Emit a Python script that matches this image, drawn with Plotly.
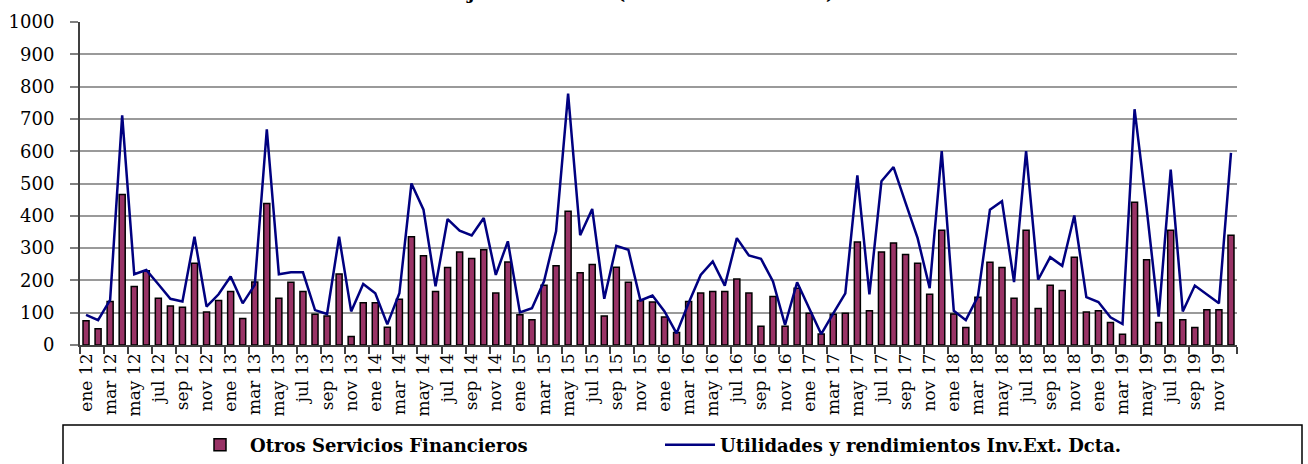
import plotly.graph_objects as go

# Monthly categories (Spanish month abbreviations, two-digit years)
month_abbr = ["ene", "feb", "mar", "abr", "may", "jun",
              "jul", "ago", "sep", "oct", "nov", "dic"]
years = ["12", "13", "14", "15", "16", "17", "18", "19"]
months = [f"{m} {y}" for y in years for m in month_abbr]

# Otros Servicios Financieros (millones de dólares)
otros = [
    75, 50, 135, 466, 181, 230, 145, 121, 117, 253, 102, 138,
    166, 82, 195, 438, 145, 194, 166, 95, 90, 220, 26, 131,
    131, 55, 142, 335, 276, 166, 240, 288, 268, 295, 161, 257,
    94, 78, 185, 245, 414, 224, 249, 90, 241, 194, 138, 133,
    87, 39, 135, 161, 166, 166, 204, 161, 58, 150, 58, 176,
    98, 34, 95, 98, 319, 106, 288, 316, 280, 253, 157, 355,
    96, 54, 148, 256, 240, 145, 355, 113, 185, 169, 272, 102,
    106, 70, 33, 442, 264, 70, 355, 78, 54, 109, 109, 340,
]

# Utilidades y rendimientos Inv.Ext. Dcta. (millones de dólares)
utilidades = [
    93, 77, 140, 711, 219, 232, 188, 143, 135, 335, 119, 157,
    212, 129, 186, 668, 219, 225, 225, 108, 96, 335, 104, 189,
    160, 64, 160, 500, 419, 182, 390, 354, 339, 393, 217, 321,
    101, 114, 197, 352, 778, 340, 421, 143, 307, 295, 138, 153,
    104, 36, 130, 217, 259, 184, 331, 277, 267, 197, 62, 194,
    114, 34, 98, 160, 525, 157, 507, 551, 440, 331, 176, 600,
    106, 77, 150, 419, 445, 195, 600, 202, 272, 245, 401, 148,
    133, 86, 65, 730, 424, 88, 543, 104, 184, 157, 129, 595,
]

y_ticks = list(range(0, 1001, 100))

x_pos = list(range(len(months)))
label_pos = x_pos[::2]
label_text = months[::2]

W, H = 1308, 464
L, R, T, B = 80, 71, 22, 119
pw, ph = W - L - R, H - T - B

serif = "DejaVu Serif, Liberation Serif, serif"

fig = go.Figure()
fig.add_bar(
    x=x_pos, y=otros, name="Otros Servicios Financieros",
    width=0.5,
    marker=dict(color="#993366", line=dict(color="#000000", width=1.5)),
)
fig.add_scatter(
    x=x_pos, y=utilidades, mode="lines",
    name="Utilidades y rendimientos Inv.Ext. Dcta.",
    line=dict(color="#000080", width=2.5),
)

fig.update_layout(
    width=W, height=H,
    margin=dict(l=L, r=R, t=T, b=B, pad=0, autoexpand=False),
    paper_bgcolor="white", plot_bgcolor="white",
    font=dict(family=serif, color="black"),
    xaxis=dict(
        range=[-0.5, len(months) - 0.5], automargin=False,
        tickmode="array", tickvals=label_pos, ticktext=label_text,
        tickangle=-90, ticks="", tickfont=dict(size=17, family=serif),
        showgrid=False, zeroline=False,
        showline=True, linecolor="#404040", linewidth=1.5,
        minor=dict(ticks="outside", tick0=-0.5, dtick=2, ticklen=7,
                   tickcolor="#404040", tickwidth=1.5, showgrid=False),
    ),
    yaxis=dict(
        range=[0, 1000], tickmode="array", tickvals=y_ticks, automargin=False,
        ticks="outside", ticklen=8, tickcolor="#808080", tickwidth=1.5,
        tickfont=dict(size=18, family=serif), ticklabelstandoff=12,
        showgrid=True, gridcolor="#9a9a9a", gridwidth=1.5,
        zeroline=False, showline=True, linecolor="#404040", linewidth=2,
    ),
    yaxis2=dict(
        range=[0, 1000], tickmode="array", tickvals=y_ticks, automargin=False,
        overlaying="y", side="right",
        ticks="outside", ticklen=10, tickcolor="#808080", tickwidth=1.5,
        tickfont=dict(size=18, family=serif), ticklabelstandoff=8,
        showgrid=False, zeroline=False,
        showline=True, linecolor="#909090", linewidth=1.5,
    ),
    legend=dict(
        orientation="h",
        x=(190 - L) / pw, xanchor="left",
        y=(H - B - 445) / ph, yanchor="middle",
        font=dict(size=18, family=serif, color="black", weight="bold"),
        entrywidth=405, entrywidthmode="pixels",
        itemwidth=50, bgcolor="rgba(0,0,0,0)", borderwidth=0,
        traceorder="normal",
    ),
)

# Legend frame
fig.add_shape(
    type="rect", xref="paper", yref="paper",
    x0=(63 - L) / pw, x1=(1302 - L) / pw,
    y0=(H - B - 480) / ph, y1=(H - B - 425) / ph,
    line=dict(color="#000000", width=1.5), fillcolor="rgba(0,0,0,0)",
    layer="below",
)

# Chart title
fig.add_annotation(
    text="Flujos Mensuales (Millones de Dólares)",
    xref="paper", yref="paper",
    x=(635 - L) / pw, y=1 + 30 / ph,
    xanchor="center", yanchor="middle", showarrow=False,
    font=dict(size=18, family=serif, color="black", weight="bold"),
)

fig.write_html("out.html")
